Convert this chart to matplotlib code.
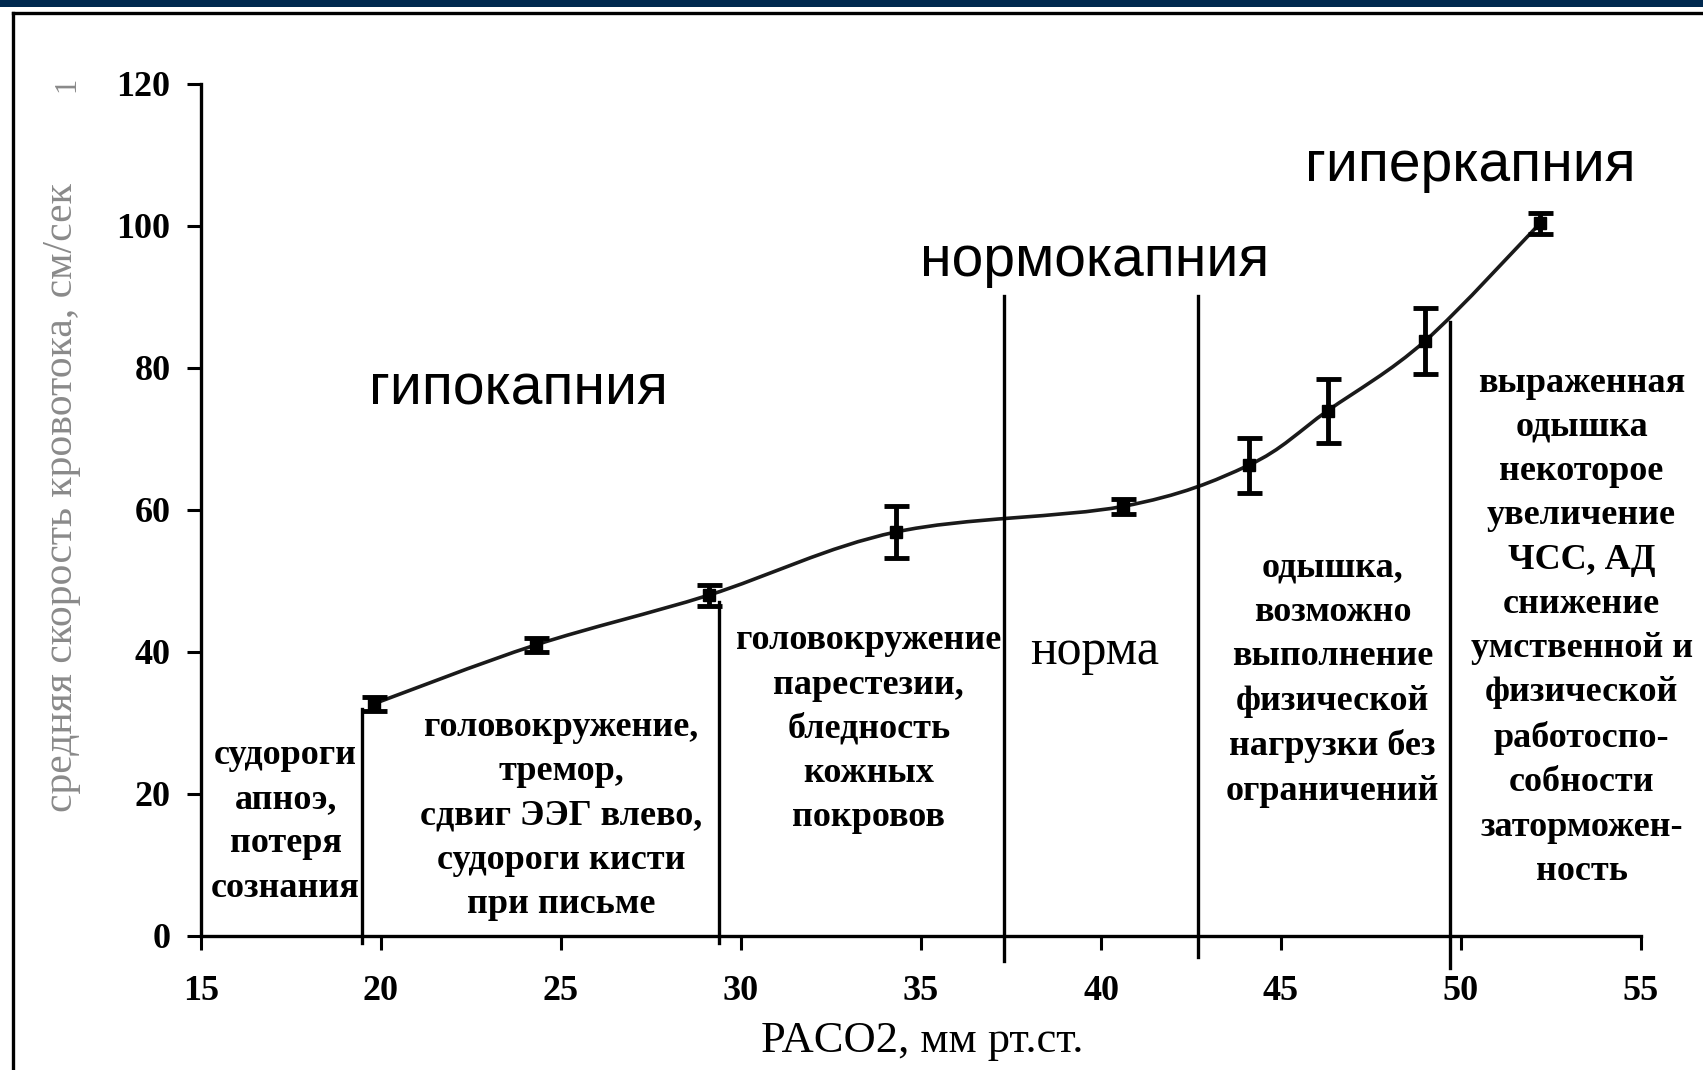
import numpy as np
import matplotlib
matplotlib.use('Agg')
import matplotlib.pyplot as plt
from matplotlib.path import Path
from matplotlib.patches import PathPatch, Rectangle
from matplotlib.lines import Line2D

# PaCO2 (mm Hg) vs mean blood flow velocity
paco2 = [19.8, 24.3, 29.1, 34.3, 40.6, 44.1, 46.3, 49.0, 52.2]
velocity = [32.7, 41.0, 48.0, 56.9, 60.5, 66.3, 74.0, 83.8, 100.4]
velocity_err = [1.0, 1.0, 1.5, 3.6, 1.0, 3.9, 4.5, 4.6, 1.5]

# zone boundaries (x, bottom, top)
bound_x = [19.46, 29.4, 37.3, 42.7, 49.7]
bound_bottom = [-1.0, -1.0, -3.5, -3.0, -4.5]
bound_top = [32.0, 47.0, 90.2, 90.2, 86.5]

x_ticks = [15, 20, 25, 30, 35, 40, 45, 50, 55]
y_ticks = [0, 20, 40, 60, 80, 100, 120]

zone_titles = ['гипокапния', 'нормокапния', 'гиперкапния']
zone_title_pos = [(23.83, 77.0), (39.83, 95.1), (50.25, 108.4)]

symptoms = [
    'судороги\nапноэ,\nпотеря\nсознания',
    'головокружение,\nтремор,\nсдвиг ЭЭГ влево,\nсудороги кисти\nпри письме',
    'головокружение\nпарестезии,\nбледность\nкожных\nпокровов',
    'одышка,\nвозможно\nвыполнение\nфизической\nнагрузки без\nограничений',
    'выраженная\nодышка\nнекоторое\nувеличение\nЧСС, АД\nснижение\nумственной и\nфизической\nработоспо-\nсобности\nзаторможен-\nность',
]
symptom_pos = [(17.35, 16.1), (25.0, 16.9), (33.55, 29.1), (46.43, 36.1), (53.35, 43.5)]


def smooth_path(xs, ys):
    # Excel-like smoothed line: cubic Bezier through every point
    p = np.column_stack([xs, ys])
    n = len(p)
    verts = [p[0]]
    codes = [Path.MOVETO]
    for i in range(n - 1):
        p0 = p[i - 1] if i > 0 else p[i]
        p3 = p[i + 2] if i + 2 < n else p[i + 1]
        c1 = p[i] + (p[i + 1] - p0) / 6
        c2 = p[i + 1] - (p3 - p[i]) / 6
        verts += [c1, c2, p[i + 1]]
        codes += [Path.CURVE4] * 3
    return Path(verts, codes)


fig = plt.figure(figsize=(17.03, 10.70), dpi=100)
W, H = 1703, 1070

# page decoration: navy band and frame
fig.add_artist(Rectangle((0, 1 - 7 / H), 1, 7 / H, transform=fig.transFigure,
                         color='#00294f', lw=0))
fig.add_artist(Line2D([13 / W, 1], [1 - 13 / H, 1 - 13 / H], transform=fig.transFigure,
                      color='k', lw=2.4))
fig.add_artist(Line2D([13 / W, 13 / W], [0, 1 - 13 / H], transform=fig.transFigure,
                      color='k', lw=2.4))

ax = fig.add_axes([201 / W, 1 - 936 / H, 1440 / W, 852 / H])
ax.set_xlim(15, 55)
ax.set_ylim(0, 120)
ax.spines['top'].set_visible(False)
ax.spines['right'].set_visible(False)
for s in ('left', 'bottom'):
    ax.spines[s].set_linewidth(2.4)

ax.set_xticks(x_ticks)
ax.set_yticks(y_ticks)
ax.tick_params(direction='out', length=10, width=2.2)
ax.tick_params(axis='x', pad=18)
ax.tick_params(axis='y', pad=12)
serif_bold = dict(family='Liberation Serif', weight='bold', size=26)
ax.set_xticklabels([str(v) for v in x_ticks], **serif_bold)
ax.set_yticklabels([str(v) for v in y_ticks], **serif_bold)

ax.set_xlabel('PACO2, мм рт.ст.', family='Liberation Serif', size=32)
ax.xaxis.set_label_coords(0.501, -0.10)
ax.set_ylabel('средняя скорость кровотока, см/сек', family='Liberation Serif',
              size=30, color='#8a8a8a')
ax.yaxis.set_label_coords(-0.083, 0.515)
ax.text(-0.093, 1.0, '1', transform=ax.transAxes, rotation=90, ha='center', va='center',
        family='Liberation Serif', size=22, color='#8a8a8a')

# zone boundaries
for bx, b0, b1 in zip(bound_x, bound_bottom, bound_top):
    ax.plot([bx, bx], [b0, b1], color='k', lw=2.4, clip_on=False)

# smoothed curve
ax.add_patch(PathPatch(smooth_path(paco2, velocity), fill=False, color='#1a1a1a', lw=2.6))
ax.errorbar(paco2, velocity, yerr=velocity_err, fmt='s', ms=8, color='k',
            ecolor='k', elinewidth=3.5, capsize=9, capthick=3.5)

for t, (tx, ty) in zip(zone_titles, zone_title_pos):
    ax.text(tx, ty, t, ha='center', va='center', family='Liberation Sans', size=41)

ax.text(39.83, 40.0, 'норма', ha='center', va='center', family='Liberation Serif', size=36)

for t, (tx, ty) in zip(symptoms, symptom_pos):
    ax.text(tx, ty, t, ha='center', va='center', family='Liberation Serif',
            weight='bold', size=26, linespacing=1.45)

fig.savefig('out.png', dpi=100)
